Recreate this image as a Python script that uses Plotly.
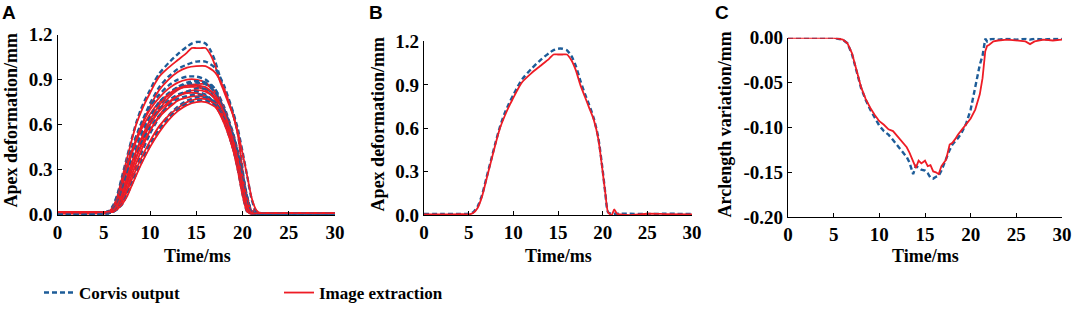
import plotly.graph_objects as go

W, H = 1072, 311

# ---------------- data ----------------
# Panel B (also the tallest pair in panel A)
tB = [0, 2, 4, 5, 5.5, 6, 6.5, 7, 7.5, 8, 8.5, 9, 9.5, 10, 10.5, 11, 12, 13, 14, 14.5,
      15, 15.5, 16, 16.5, 17, 17.5, 18, 18.5, 19, 19.5, 20, 20.3, 20.6, 21.0, 21.3, 21.6,
      22, 23, 25, 27, 30]
corvisB = [0.008, 0.008, 0.008, 0.01, 0.02, 0.06, 0.14, 0.26, 0.38, 0.50, 0.61, 0.70, 0.77,
           0.83, 0.89, 0.94, 1.01, 1.07, 1.12, 1.14, 1.15, 1.15, 1.14, 1.10, 1.03, 0.93, 0.84,
           0.76, 0.67, 0.54, 0.31, 0.15, 0.02, 0.01, 0.01, 0.01, 0.01, 0.01, 0.008, 0.01, 0.008]
imageB = [0.005, 0.005, 0.008, 0.005, 0.015, 0.05, 0.13, 0.25, 0.37, 0.49, 0.60, 0.68, 0.75,
          0.81, 0.87, 0.92, 0.98, 1.03, 1.08, 1.11, 1.11, 1.11, 1.11, 1.07, 1.00, 0.90, 0.82,
          0.74, 0.66, 0.53, 0.30, 0.15, 0.02, 0.0, 0.04, 0.01, 0.005, 0.0, 0.01, 0.008, 0.005]

# Panel A: remaining eyes (Corvis output / image extraction)
tA = [0, 4, 5.5, 6, 6.5, 7, 7.5, 8, 9, 10, 11, 12, 13, 14, 15, 16, 17, 18, 19, 19.5,
      20, 20.5, 21, 21.5, 22, 26, 30]
corvisA = [
    [0.01, 0.01, 0.02, 0.04, 0.10, 0.20, 0.31, 0.42, 0.60, 0.74, 0.85, 0.92, 0.97, 1.00, 1.02, 1.02, 0.98, 0.86, 0.68, 0.57, 0.42, 0.26, 0.10, 0.02, 0.01, 0.01, 0.01],
    [0.01, 0.01, 0.02, 0.05, 0.13, 0.24, 0.34, 0.44, 0.60, 0.72, 0.80, 0.86, 0.90, 0.92, 0.92, 0.90, 0.84, 0.70, 0.50, 0.36, 0.20, 0.05, 0.01, 0.01, 0.01, 0.01, 0.01],
    [0.01, 0.01, 0.01, 0.02, 0.05, 0.12, 0.21, 0.30, 0.48, 0.62, 0.72, 0.80, 0.85, 0.88, 0.89, 0.88, 0.84, 0.72, 0.54, 0.42, 0.28, 0.12, 0.02, 0.01, 0.01, 0.01, 0.01],
    [0.01, 0.01, 0.02, 0.04, 0.10, 0.20, 0.30, 0.40, 0.55, 0.66, 0.74, 0.80, 0.84, 0.86, 0.86, 0.84, 0.78, 0.64, 0.44, 0.30, 0.14, 0.02, 0.01, 0.01, 0.01, 0.01, 0.01],
    [0.01, 0.01, 0.01, 0.02, 0.04, 0.08, 0.15, 0.24, 0.40, 0.54, 0.65, 0.73, 0.79, 0.82, 0.84, 0.84, 0.80, 0.70, 0.53, 0.41, 0.27, 0.12, 0.02, 0.01, 0.01, 0.01, 0.01],
    [0.01, 0.01, 0.02, 0.03, 0.08, 0.17, 0.27, 0.36, 0.51, 0.62, 0.70, 0.76, 0.80, 0.82, 0.82, 0.80, 0.74, 0.62, 0.44, 0.32, 0.17, 0.04, 0.01, 0.01, 0.01, 0.01, 0.01],
    [0.01, 0.01, 0.01, 0.03, 0.07, 0.14, 0.23, 0.32, 0.47, 0.58, 0.66, 0.72, 0.77, 0.79, 0.80, 0.79, 0.75, 0.65, 0.49, 0.37, 0.23, 0.08, 0.01, 0.01, 0.01, 0.01, 0.01],
    [0.01, 0.01, 0.01, 0.02, 0.04, 0.08, 0.14, 0.22, 0.36, 0.48, 0.58, 0.66, 0.72, 0.76, 0.78, 0.78, 0.75, 0.66, 0.50, 0.39, 0.26, 0.11, 0.02, 0.01, 0.01, 0.01, 0.01],
    [0.01, 0.01, 0.01, 0.02, 0.04, 0.07, 0.13, 0.20, 0.34, 0.46, 0.56, 0.64, 0.70, 0.74, 0.76, 0.76, 0.73, 0.64, 0.48, 0.36, 0.22, 0.07, 0.01, 0.01, 0.01, 0.01, 0.01],
    [0.01, 0.01, 0.02, 0.03, 0.07, 0.15, 0.25, 0.35, 0.52, 0.65, 0.75, 0.81, 0.85, 0.87, 0.88, 0.87, 0.82, 0.70, 0.51, 0.38, 0.23, 0.07, 0.01, 0.01, 0.01, 0.01, 0.01],
]
imageA = [
    [0.015, 0.015, 0.02, 0.04, 0.09, 0.19, 0.29, 0.40, 0.58, 0.72, 0.83, 0.90, 0.95, 0.98, 0.99, 0.99, 0.95, 0.84, 0.66, 0.55, 0.41, 0.26, 0.11, 0.03, 0.01, 0.01, 0.01],
    [0.015, 0.015, 0.02, 0.05, 0.12, 0.23, 0.33, 0.42, 0.58, 0.70, 0.78, 0.84, 0.88, 0.90, 0.90, 0.88, 0.82, 0.68, 0.48, 0.34, 0.18, 0.04, 0.01, 0.01, 0.01, 0.01, 0.01],
    [0.015, 0.015, 0.015, 0.02, 0.05, 0.11, 0.20, 0.29, 0.46, 0.60, 0.70, 0.78, 0.83, 0.86, 0.87, 0.87, 0.82, 0.71, 0.53, 0.41, 0.27, 0.11, 0.02, 0.01, 0.01, 0.01, 0.01],
    [0.015, 0.015, 0.02, 0.04, 0.10, 0.20, 0.31, 0.41, 0.56, 0.67, 0.75, 0.80, 0.84, 0.85, 0.85, 0.83, 0.77, 0.63, 0.43, 0.29, 0.13, 0.02, 0.01, 0.01, 0.01, 0.01, 0.01],
    [0.015, 0.015, 0.015, 0.02, 0.04, 0.09, 0.17, 0.26, 0.42, 0.56, 0.66, 0.74, 0.79, 0.82, 0.83, 0.82, 0.78, 0.68, 0.51, 0.39, 0.25, 0.10, 0.02, 0.01, 0.01, 0.01, 0.01],
    [0.015, 0.015, 0.02, 0.03, 0.08, 0.16, 0.25, 0.34, 0.49, 0.60, 0.69, 0.75, 0.79, 0.81, 0.81, 0.79, 0.73, 0.61, 0.43, 0.31, 0.16, 0.03, 0.01, 0.01, 0.01, 0.01, 0.01],
    [0.015, 0.015, 0.015, 0.03, 0.07, 0.13, 0.22, 0.31, 0.45, 0.56, 0.65, 0.71, 0.76, 0.78, 0.79, 0.78, 0.74, 0.64, 0.48, 0.36, 0.22, 0.07, 0.01, 0.01, 0.01, 0.01, 0.01],
    [0.015, 0.015, 0.015, 0.02, 0.04, 0.09, 0.15, 0.23, 0.37, 0.49, 0.59, 0.66, 0.71, 0.75, 0.77, 0.77, 0.74, 0.65, 0.49, 0.38, 0.25, 0.10, 0.02, 0.01, 0.01, 0.01, 0.01],
    [0.015, 0.015, 0.015, 0.02, 0.04, 0.07, 0.12, 0.19, 0.33, 0.45, 0.55, 0.63, 0.69, 0.73, 0.75, 0.75, 0.72, 0.63, 0.47, 0.35, 0.21, 0.06, 0.01, 0.01, 0.01, 0.01, 0.01],
    [0.015, 0.015, 0.02, 0.03, 0.07, 0.14, 0.24, 0.34, 0.50, 0.63, 0.73, 0.80, 0.84, 0.86, 0.86, 0.85, 0.80, 0.68, 0.49, 0.36, 0.21, 0.06, 0.01, 0.01, 0.01, 0.01, 0.01],
]

# Panel C: arclength variation
tC = [0, 2, 4, 5, 5.5, 6, 6.5, 7, 7.5, 8, 8.5, 9, 9.5, 10, 10.5, 11, 11.5, 12, 12.5, 13,
      13.3, 13.7, 14, 14.3, 14.6, 15, 15.3, 15.6, 15.9, 16.2, 16.5, 16.8, 17, 17.3, 17.7, 18,
      18.3, 18.6, 19, 19.5, 20, 20.5, 21, 21.3, 21.6, 21.8, 22, 22.5, 23, 24, 25, 26, 26.5,
      27, 28, 29, 30]
corvisC = [0, 0, 0, 0, -0.001, -0.002, -0.006, -0.018, -0.037, -0.056,
           -0.069, -0.080, -0.089, -0.098, -0.104, -0.108, -0.114, -0.120, -0.126, -0.133,
           -0.139, -0.152, -0.143, -0.145, -0.147, -0.148, -0.151, -0.156, -0.157, -0.155,
           -0.154, -0.148, -0.143, -0.134, -0.125, -0.119, -0.116, -0.112, -0.106, -0.096,
           -0.080, -0.053, -0.030, -0.020, -0.001, -0.004, -0.002, -0.001, -0.002, -0.001,
           -0.002, -0.001, -0.002, -0.001, -0.002, -0.001, -0.001]
imageC = [0, 0, 0, 0, -0.001, -0.002, -0.006, -0.017, -0.036, -0.055,
          -0.068, -0.078, -0.086, -0.093, -0.097, -0.102, -0.104, -0.110, -0.115, -0.122,
          -0.128, -0.138, -0.145, -0.137, -0.140, -0.137, -0.143, -0.142, -0.149, -0.150,
          -0.152, -0.143, -0.140, -0.136, -0.119, -0.117, -0.113, -0.108, -0.103, -0.097,
          -0.090, -0.080, -0.063, -0.045, -0.015, -0.009, -0.008, -0.004, -0.003, -0.002,
          -0.003, -0.004, -0.007, -0.004, -0.002, -0.003, -0.002]

xTicks = [0, 5, 10, 15, 20, 25, 30]
yTicksAB = [0.0, 0.3, 0.6, 0.9, 1.2]
yTicksC = [0.0, -0.05, -0.10, -0.15, -0.20]
yTickTextC = ["0.00", "-0.05", "-0.10", "-0.15", "-0.20"]
panelLetters = ["A", "B", "C"]
yTitles = ["Apex deformation/mm", "Apex deformation/mm", "Arclength variation/mm"]
xTitle = "Time/ms"
seriesNames = ["Corvis output", "Image extraction"]

# ---------------- style ----------------
BLUE = "#1d5c98"
RED = "#ee1c25"
SERIF = "Liberation Serif"

fig = go.Figure()

def add_pair(t, dv, rv, xa, ya, show=False, shape="spline"):
    fig.add_trace(go.Scatter(x=t, y=dv, mode="lines", xaxis=xa, yaxis=ya,
                             line=dict(color=BLUE, width=2.4, dash="5px,3px", shape=shape,
                                       smoothing=0.6),
                             name=seriesNames[0], showlegend=show, legendrank=1))
    fig.add_trace(go.Scatter(x=t, y=rv, mode="lines", xaxis=xa, yaxis=ya,
                             line=dict(color=RED, width=1.8, shape=shape, smoothing=0.6),
                             name=seriesNames[1], showlegend=show, legendrank=2))

# Panel A
add_pair(tB, corvisB, imageB, "x", "y", show=True)
for dv, rv in zip(corvisA, imageA):
    add_pair(tA, dv, rv, "x", "y")
# Panel B
add_pair(tB, corvisB, imageB, "x2", "y2")
# Panel C
add_pair(tC, corvisC, imageC, "x3", "y3", shape="linear")

def px_x(p):
    return p / W

def px_y(p):
    return 1 - p / H

tickfont = dict(family=SERIF, size=19, color="black", weight="bold")
common_axis = dict(showline=True, linecolor="black", linewidth=1.2, ticks="inside",
                   ticklen=4, tickwidth=1.2, tickcolor="black", showgrid=False,
                   zeroline=False, tickfont=tickfont, automargin=False, mirror=False)

domains = {
    "A": ([px_x(57.5), px_x(335)], [px_y(217.5), px_y(35)]),
    "B": ([px_x(424), px_x(692)], [px_y(218), px_y(42)]),
    "C": ([px_x(788), px_x(1062)], [px_y(220), px_y(38.3)]),
}

for i, key in enumerate(["A", "B", "C"]):
    xd, yd = domains[key]
    sfx = "" if i == 0 else str(i + 1)
    fig.update_layout(**{
        "xaxis" + sfx: dict(domain=xd, range=[0, 30], tickvals=xTicks, anchor="y" + sfx,
                            **common_axis),
    })
    if key == "C":
        ycfg = dict(domain=yd, range=[-0.2, 0.0], tickvals=yTicksC, ticktext=yTickTextC,
                    anchor="x" + sfx, **common_axis)
    else:
        ycfg = dict(domain=yd, range=[0, 1.2], tickvals=yTicksAB, tickformat=".1f",
                    anchor="x" + sfx, **common_axis)
    fig.update_layout(**{"yaxis" + sfx: ycfg})

annotations = []
title_font = dict(family=SERIF, size=18, color="black", weight="bold")
letter_pos = [(9, 13), (376, 13), (722, 13)]
ytitle_pos = [(11, 122), (378, 126), (725, 126)]
xtitle_pos = [(197, 259), (558, 259), (925, 259)]
for i in range(3):
    lx, ly = letter_pos[i]
    annotations.append(dict(text=panelLetters[i], x=px_x(lx), y=px_y(ly), xref="paper",
                            yref="paper", showarrow=False, xanchor="center", yanchor="middle",
                            font=dict(family="Liberation Sans", size=19, color="black",
                                      weight="bold")))
    tx, ty = ytitle_pos[i]
    annotations.append(dict(text=yTitles[i], x=px_x(tx), y=px_y(ty), xref="paper",
                            yref="paper", showarrow=False, textangle=-90, xanchor="center",
                            yanchor="middle", font=title_font))
    xx, xy = xtitle_pos[i]
    annotations.append(dict(text=xTitle, x=px_x(xx), y=px_y(xy), xref="paper", yref="paper",
                            showarrow=False, xanchor="center", yanchor="middle",
                            font=title_font))

fig.update_layout(
    width=W, height=H,
    margin=dict(l=0, r=0, t=0, b=0),
    paper_bgcolor="white", plot_bgcolor="white",
    annotations=annotations,
    showlegend=True,
    legend=dict(orientation="h", x=px_x(39), y=px_y(297), xanchor="left", yanchor="middle",
                font=dict(family=SERIF, size=17, color="black", weight="bold"),
                entrywidth=195, entrywidthmode="pixels", bgcolor="rgba(0,0,0,0)",
                traceorder="normal"),
)

fig.write_html("out.html",
               config={"displayModeBar": False},
               post_script="document.body.style.margin='0px';document.body.style.padding='0px';"
                           "document.body.style.overflow='hidden';")
